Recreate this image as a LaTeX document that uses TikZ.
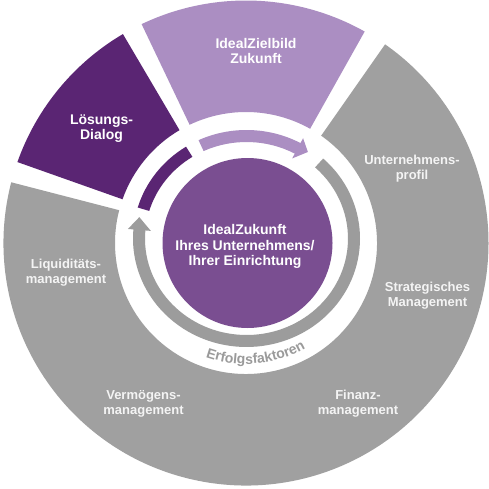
\documentclass[tikz,border=0pt]{standalone}
\usepackage{fontspec}
\setmainfont{Liberation Sans}
\usetikzlibrary{calc,decorations.text}
\definecolor{ringgray}{HTML}{A0A0A0}
\definecolor{innergray}{HTML}{9C9C9C}
\definecolor{lpurple}{HTML}{AB8EC2}
\definecolor{dpurple}{HTML}{5A2573}
\definecolor{cpurple}{HTML}{7A4E91}
\definecolor{ergray}{HTML}{9A9A9A}
\definecolor{labwhite}{HTML}{F4F4F4}
\newcommand\erffont{\fontsize{14}{15}\selectfont\bfseries}
\tikzset{
  lab/.style={align=center, inner sep=0pt, text=white, font={\bfseries\fontsize{14}{15.5}\selectfont}},
  glab/.style={align=center, inner sep=0pt, text=labwhite, font={\bfseries\fontsize{13}{15}\selectfont}},
}
\begin{document}
\begin{tikzpicture}[x=1pt,y=1pt]
\useasboundingbox (0,0) rectangle (489,-489);
\fill[white] (0,0) rectangle (489,-489);
\coordinate (O) at (246,-243);
\coordinate (E) at (246.5,-238.5);
\coordinate (M) at (247.5,-243);

% outer ring segments
\fill[ringgray] ($(O)+(165.5:242.5pt)$) arc[start angle=165.5, end angle=415, radius=242.5pt]
  -- ($(O)+(55:131pt)$) arc[start angle=415, end angle=165.5, radius=131pt] -- cycle;
\fill[lpurple] ($(O)+(60.7:242.5pt)$) arc[start angle=60.7, end angle=115.5, radius=242.5pt]
  -- ($(O)+(115.5:131pt)$) arc[start angle=115.5, end angle=60.7, radius=131pt] -- cycle;
\fill[dpurple] ($(O)+(120.5:242.5pt)$) arc[start angle=120.5, end angle=160.5, radius=242.5pt]
  -- ($(O)+(160.5:131pt)$) arc[start angle=160.5, end angle=120.5, radius=131pt] -- cycle;

% central circle
\node[circle, fill=cpurple, minimum size=170pt, inner sep=0pt] (core) at (M) {};

% inner ring: light purple arrow
\fill[lpurple] ($(E)+(115:113.5pt and 108.5pt)$)
  arc[start angle=115, end angle=61.6, x radius=113.5pt, y radius=108.5pt]
  -- ($(E)+(61.6:119pt and 114pt)$)
  -- ($(E)+(55.9:109.5pt and 104.5pt)$)
  -- ($(E)+(61.6:96pt and 91pt)$)
  -- ($(E)+(61.6:101.5pt and 96.5pt)$)
  arc[start angle=61.6, end angle=115, x radius=101.5pt, y radius=96.5pt] -- cycle;

% inner ring: gray arrow
\fill[innergray] ($(E)+(47.5:113.5pt and 108.5pt)$)
  arc[start angle=47.5, end angle=-184.8, x radius=113.5pt, y radius=108.5pt]
  -- ($(E)+(-184.8:119pt and 114pt)$)
  -- ($(E)+(-191.8:109.5pt and 104.5pt)$)
  -- ($(E)+(-184.8:96pt and 91pt)$)
  -- ($(E)+(-184.8:101.5pt and 96.5pt)$)
  arc[start angle=-184.8, end angle=47.5, x radius=101.5pt, y radius=96.5pt] -- cycle;

% inner ring: dark purple arc
\fill[dpurple] ($(E)+(122.2:113.5pt and 108.5pt)$)
  arc[start angle=122.2, end angle=163.4, x radius=113.5pt, y radius=108.5pt]
  -- ($(E)+(163.4:101.5pt and 96.5pt)$)
  arc[start angle=163.4, end angle=122.2, x radius=101.5pt, y radius=96.5pt] -- cycle;

% curved label
\path[decorate, decoration={text along path, text={|\erffont|Erfolgsfaktoren}, text align=center, text color=ergray}]
  ($(O)+(-125:121pt)$) arc[start angle=-125, end angle=-45, radius=121pt];

% labels
\node[lab] (ziel) at (256,-51) {IdealZielbild\\Zukunft};
\node[lab] (loesung) at (101.5,-128.5) {Lösungs-\\Dialog};
\node[glab] (uprofil) at (412,-168.5) {Unternehmens-\\profil};
\node[glab] (strat) at (427.5,-296) {Strategisches\\Management};
\node[glab] (finanz) at (358,-404) {Finanz-\\management};
\node[glab] (verm) at (143.5,-404) {Vermögens-\\management};
\node[glab] (liqui) at (66,-273) {Liquiditäts-\\management};
\node[lab] (kern) at (245,-246.5) {IdealZukunft\\Ihres Unternehmens/\\Ihrer Einrichtung};
\end{tikzpicture}
\end{document}
